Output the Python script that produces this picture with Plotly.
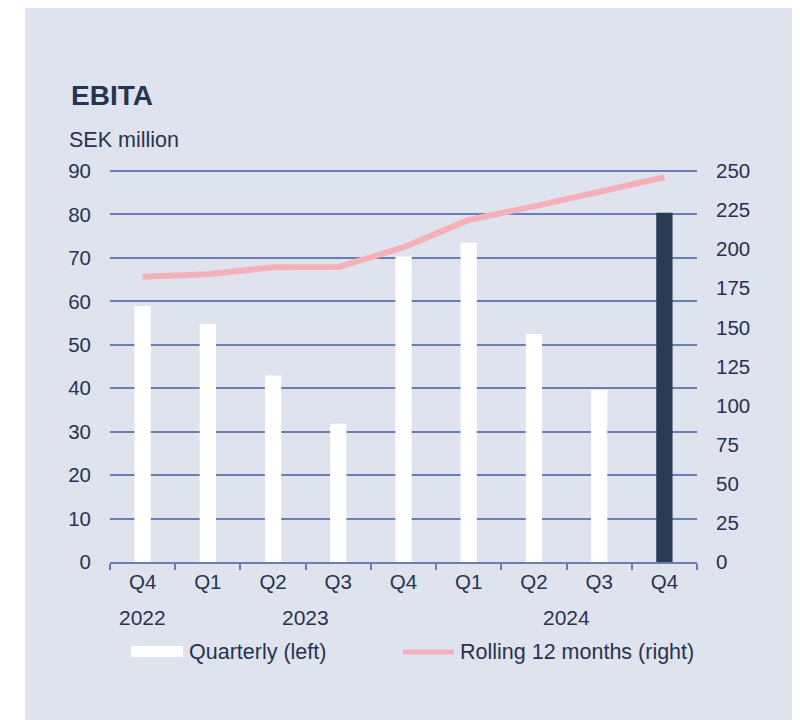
import plotly.graph_objects as go

# ---- data ----
quarters = ["Q4", "Q1", "Q2", "Q3", "Q4", "Q1", "Q2", "Q3", "Q4"]
years = ["2022", "2023", "2023", "2023", "2023", "2024", "2024", "2024", "2024"]
quarterly = [58.9, 54.8, 42.9, 31.8, 70.3, 73.5, 52.5, 39.6, 80.4]
rolling12 = [182.4, 184.0, 188.4, 188.6, 201.2, 218.7, 227.4, 236.4, 246.0]
left_ticks = [0, 10, 20, 30, 40, 50, 60, 70, 80, 90]
right_ticks = [0, 25, 50, 75, 100, 125, 150, 175, 200, 225, 250]
series_names = ["Quarterly (left)", "Rolling 12 months (right)"]

# ---- style ----
BG = "#dfe3ee"
TXT = "#27344f"
GRID = "#6a7eb2"
NAVY = "#2a3a55"
PINK = "#f5b1b9"
FONT = "Liberation Sans, Arial, sans-serif"

# page offset (browser body margin) -> work in page pixels, convert to figure
OFF = 8
W, H = 792, 712
L, R, T, B = 110 - OFF, W - (697 - OFF), 171 - OFF, H - (562 - OFF)
pw, ph = W - L - R, H - T - B


def px2paper(px, py):
    """page pixel -> paper coords"""
    return (px - OFF - L) / pw, (H - B - (py - OFF)) / ph


keys = [f"{y} {q}" for y, q in zip(years, quarters)]
bar_colors = ["#ffffff"] * (len(keys) - 1) + [NAVY]

fig = go.Figure()
fig.add_trace(go.Bar(
    x=keys, y=quarterly, name=series_names[0],
    marker=dict(color=bar_colors, line=dict(width=0)),
    width=0.25, yaxis="y", showlegend=False,
))
fig.add_trace(go.Scatter(
    x=keys, y=rolling12, name=series_names[1],
    mode="lines", line=dict(color=PINK, width=6),
    yaxis="y2", showlegend=False,
))

annotations = []
# year labels centered under their groups
seen = []
for y in years:
    if y not in seen:
        seen.append(y)
yr_y = px2paper(0, 617)[1]
for y in seen:
    idx = [i for i, v in enumerate(years) if v == y]
    annotations.append(dict(
        x=sum(idx) / len(idx), y=yr_y, xref="x", yref="paper",
        text=y, showarrow=False, yanchor="middle",
        font=dict(size=21, color=TXT, family=FONT),
    ))

tx, ty = px2paper(69, 95)
annotations.append(dict(
    x=tx, y=ty, xref="paper", yref="paper", text="<b>EBITA</b>",
    showarrow=False, xanchor="left", yanchor="middle",
    font=dict(size=28, color=TXT, family=FONT),
))
sx, sy = px2paper(67, 140)
annotations.append(dict(
    x=sx, y=sy, xref="paper", yref="paper", text="SEK million",
    showarrow=False, xanchor="left", yanchor="middle",
    font=dict(size=21.5, color=TXT, family=FONT),
))

# legend (drawn as shapes + text)
lx1, ly = px2paper(187, 652)
lx2, _ = px2paper(458, 652)
annotations.append(dict(
    x=lx1, y=ly, xref="paper", yref="paper", text=series_names[0],
    showarrow=False, xanchor="left", yanchor="middle",
    font=dict(size=21.5, color=TXT, family=FONT),
))
annotations.append(dict(
    x=lx2, y=ly, xref="paper", yref="paper", text=series_names[1],
    showarrow=False, xanchor="left", yanchor="middle",
    font=dict(size=21.5, color=TXT, family=FONT),
))

x0, y1 = px2paper(25, 7)
x1, y0 = px2paper(794, 730)
sw_x0, sw_y1 = px2paper(131, 646)
sw_x1, sw_y0 = px2paper(183, 657)
ln_x0, ln_y = px2paper(403, 652)
ln_x1, _ = px2paper(454, 652)

ymax = 90
top_grid = left_ticks[-1] / ymax

shapes = [
    dict(type="rect", xref="paper", yref="paper", x0=x0, x1=x1, y0=y0, y1=y1,
         fillcolor=BG, line=dict(width=0), layer="below"),
    # top gridline (plotly drops the grid line at the range edge)
    dict(type="line", xref="paper", yref="paper", x0=0, x1=1,
         y0=top_grid, y1=top_grid,
         line=dict(color=GRID, width=2), layer="below"),
    dict(type="rect", xref="paper", yref="paper", x0=sw_x0, x1=sw_x1,
         y0=sw_y0, y1=sw_y1, fillcolor="#ffffff", line=dict(width=0)),
    dict(type="line", xref="paper", yref="paper", x0=ln_x0, x1=ln_x1,
         y0=ln_y, y1=ln_y, line=dict(color=PINK, width=5)),
]

fig.update_layout(
    width=W, height=H,
    margin=dict(l=L, r=R, t=T, b=B, pad=0),
    paper_bgcolor="#ffffff",
    plot_bgcolor="rgba(0,0,0,0)",
    font=dict(family=FONT, size=20, color=TXT),
    showlegend=False,
    xaxis=dict(
        type="category", tickmode="array", tickvals=keys, ticktext=quarters,
        tickson="boundaries", ticks="outside", ticklen=6, tickwidth=2,
        tickcolor=GRID, showline=True, linecolor=GRID, linewidth=2,
        showgrid=False, range=[-0.5, len(keys) - 0.5],
        tickfont=dict(size=20.5, color=TXT), fixedrange=True,
    ),
    yaxis=dict(
        range=[0, ymax], tickvals=left_ticks, showgrid=True, gridcolor=GRID,
        gridwidth=2, zeroline=False, showline=False, ticks="",
        ticklabelstandoff=18, tickfont=dict(size=20.5, color=TXT),
    ),
    yaxis2=dict(
        range=[0, 250 * ymax / 90], tickvals=right_ticks, overlaying="y",
        side="right", showgrid=False, zeroline=False, showline=False,
        ticks="", ticklabelstandoff=18, tickfont=dict(size=20.5, color=TXT),
    ),
    annotations=annotations,
    shapes=shapes,
)

fig.write_html("out.html")
